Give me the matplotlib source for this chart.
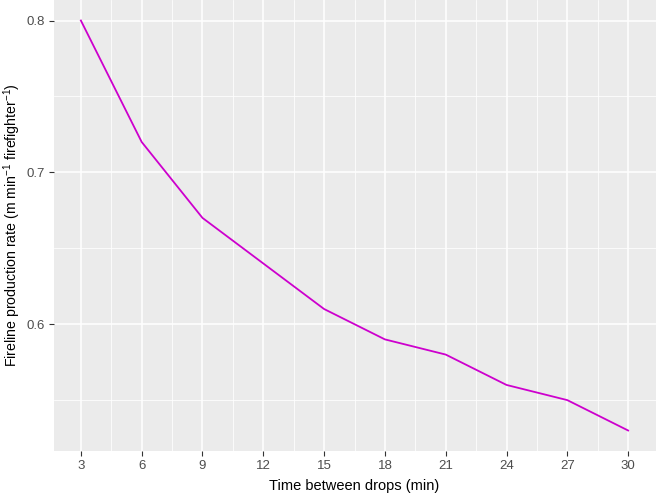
import matplotlib
matplotlib.use("Agg")
import matplotlib.pyplot as plt
import numpy as np

# data
drop_interval = [3, 6, 9, 12, 15, 18, 21, 24, 27, 30]
production_rate = [0.80, 0.72, 0.67, 0.64, 0.61, 0.59, 0.58, 0.56, 0.55, 0.53]
x_ticks = [3, 6, 9, 12, 15, 18, 21, 24, 27, 30]
y_ticks = [0.6, 0.7, 0.8]

plt.rcParams["font.family"] = ["Liberation Sans", "DejaVu Sans"]
plt.rcParams["mathtext.default"] = "regular"

fig = plt.figure(figsize=(6.56, 4.93), dpi=100)
ax = fig.add_axes([53.5 / 656, 42 / 493, 602 / 656, 451 / 493])
ax.set_facecolor("#EBEBEB")

# ggplot-like expansion of 5%
x_span = max(drop_interval) - min(drop_interval)
y_span = max(production_rate) - min(production_rate)
ax.set_xlim(min(drop_interval) - 0.05 * x_span, max(drop_interval) + 0.05 * x_span)
ax.set_ylim(min(production_rate) - 0.05 * y_span, max(production_rate) + 0.05 * y_span)

ax.set_xticks(x_ticks)
ax.set_xticklabels([str(v) for v in x_ticks])
ax.set_yticks(y_ticks)
ax.set_yticklabels([f"{v:.1f}" for v in y_ticks])
ax.set_xticks([v + 1.5 for v in x_ticks[:-1]], minor=True)
ax.set_yticks([0.55, 0.65, 0.75], minor=True)

ax.grid(which="major", color="white", linewidth=1.1)
ax.grid(which="minor", color="white", linewidth=0.55)
ax.set_axisbelow(True)
for s in ax.spines.values():
    s.set_visible(False)

ax.tick_params(which="major", length=3.5, width=0.8, color="#333333",
               labelsize=9.5, labelcolor="#4D4D4D", pad=3)
ax.tick_params(which="minor", length=0)

ax.plot(drop_interval, production_rate, color="#CD00CD", linewidth=1.3)

ax.set_xlabel("Time between drops (min)", fontsize=10.5, labelpad=5)
ax.set_ylabel("Fireline production rate (m min$^{-1}$ firefighter$^{-1}$)",
              fontsize=10.2)
ax.yaxis.set_label_coords(-0.05, 0.5)

fig.savefig("out.png", dpi=100)
